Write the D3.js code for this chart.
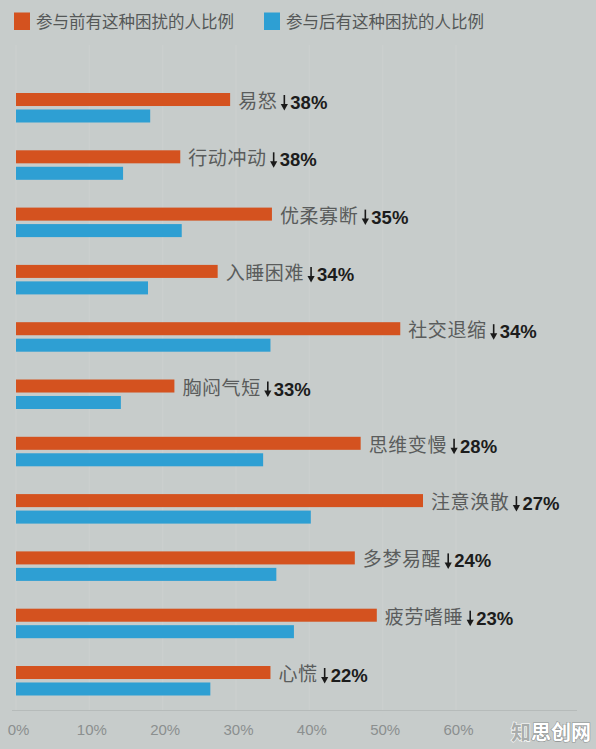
<!DOCTYPE html>
<html>
<head>
<meta charset="utf-8">
<script src="https://cdn.jsdelivr.net/npm/d3@7"></script>
<style>
  html, body { margin: 0; padding: 0; background: #c7cccb; }
  svg { display: block; }
</style>
</head>
<body>
<svg id="chart" width="596" height="749"></svg>
<script>
// ---- data ----
const categories = ["易怒","行动冲动","优柔寡断","入睡困难","社交退缩","胸闷气短","思维变慢","注意涣散","多梦易醒","疲劳嗜睡","心慌"];
const beforeValues = [29.2, 22.4, 34.9, 27.5, 52.4, 21.6, 47.0, 55.5, 46.2, 49.2, 34.7];
const afterValues  = [18.3, 14.6, 22.6, 18.0, 34.7, 14.3, 33.7, 40.2, 35.5, 37.9, 26.5];
const declineLabels = ["38%","38%","35%","34%","34%","33%","28%","27%","24%","23%","22%"];
const seriesNames = ["参与前有这种困扰的人比例","参与后有这种困扰的人比例"];
const tickValues = [0, 10, 20, 30, 40, 50, 60];
const tickLabels = ["0%","10%","20%","30%","40%","50%","60%"];

// ---- styles ----
const ORANGE = "#d4521f", BLUE = "#2e9fd3";
const colors = [ORANGE, BLUE];
const svg = d3.select("#chart");
const W = 596, H = 749;

svg.append("rect").attr("width", W).attr("height", H).attr("fill", "#c7cccb");

const x = d3.scaleLinear().domain([0, 60]).range([16, 456]);
const step = 57.3;
const y = d3.scaleBand().domain(categories).range([93, 93 + step * categories.length]).paddingInner(0);
const sub = d3.scaleBand().domain([0, 1]).range([0, 29.5]).paddingInner(0.21);

// faint vertical grid
svg.append("g").selectAll("line").data(tickValues).join("line")
  .attr("x1", d => x(d)).attr("x2", d => x(d))
  .attr("y1", 45).attr("y2", 710)
  .attr("stroke", "#cbcfce").attr("stroke-width", 1.5);

// baseline
svg.append("line").attr("x1", 12).attr("x2", 577).attr("y1", 710.5).attr("y2", 710.5)
  .attr("stroke", "#b6bbba").attr("stroke-width", 1);

// axis tick labels
const axis = d3.axisBottom(x).tickValues(tickValues).tickFormat((d, i) => tickLabels[i]).tickSize(0).tickPadding(0);
const gAxis = svg.append("g").attr("transform", "translate(2,724)").call(axis);
gAxis.select(".domain").remove();
gAxis.selectAll("text")
  .attr("font-family", "'Liberation Sans', Arial, sans-serif")
  .attr("font-size", 15).attr("fill", "#8b8f8f").attr("dy", "0.7em");

// bars
const groups = svg.append("g").selectAll("g").data(categories).join("g")
  .attr("transform", d => `translate(0,${y(d)})`);

groups.append("rect")
  .attr("x", x(0)).attr("y", sub(0))
  .attr("width", (d, i) => x(beforeValues[i]) - x(0))
  .attr("height", sub.bandwidth()).attr("fill", ORANGE);
groups.append("rect")
  .attr("x", x(0)).attr("y", sub(1))
  .attr("width", (d, i) => x(afterValues[i]) - x(0))
  .attr("height", sub.bandwidth()).attr("fill", BLUE);

// labels
groups.each(function (d, i) {
  const g = d3.select(this);
  const x0 = x(beforeValues[i]) + 8;
  const name = g.append("text").attr("x", x0).attr("y", 15)
    .attr("font-family", "'Noto Sans CJK SC', sans-serif")
    .attr("font-size", 19).attr("letter-spacing", 0.6).attr("fill", "#5a5c5c")
    .text(d);
  const w = name.node().getComputedTextLength();
  const ax = x0 + w + 7;
  // down arrow
  g.append("line").attr("x1", ax).attr("x2", ax).attr("y1", 2).attr("y2", 12)
    .attr("stroke", "#1a1a1a").attr("stroke-width", 1.6);
  g.append("path").attr("d", `M${ax - 3.6},11 L${ax + 3.6},11 L${ax},17.5 Z`).attr("fill", "#1a1a1a");
  g.append("text").attr("x", ax + 6).attr("y", 16)
    .attr("font-family", "'Liberation Sans', Arial, sans-serif")
    .attr("font-weight", "bold").attr("font-size", 18.5).attr("fill", "#1c1c1c")
    .text(declineLabels[i]);
});

// legend
const legendX = [14, 264];
const leg = svg.append("g").selectAll("g").data(seriesNames).join("g")
  .attr("transform", (d, i) => `translate(${legendX[i]},0)`);
leg.append("rect").attr("x", 0).attr("y", 12.5).attr("width", 16).attr("height", 17.5)
  .attr("fill", (d, i) => colors[i]);
leg.append("text").attr("x", 22).attr("y", 28)
  .attr("font-family", "'Noto Sans CJK SC', sans-serif")
  .attr("font-size", 16.5).attr("fill", "#555858")
  .text(d => d);

// watermark
const wm = svg.append("text").attr("x", 511).attr("y", 740)
  .attr("font-family", "'Noto Sans CJK SC', sans-serif").attr("font-weight", "bold")
  .attr("font-size", 20);
wm.append("tspan").attr("fill", "#a9adac").attr("stroke", "#ffffff").attr("stroke-width", 1.2)
  .attr("paint-order", "stroke").text("知");
wm.append("tspan").attr("fill", "#ffffff").attr("stroke", "#8c9090").attr("stroke-width", 1.2)
  .attr("paint-order", "stroke").text("思创网");
</script>
</body>
</html>
